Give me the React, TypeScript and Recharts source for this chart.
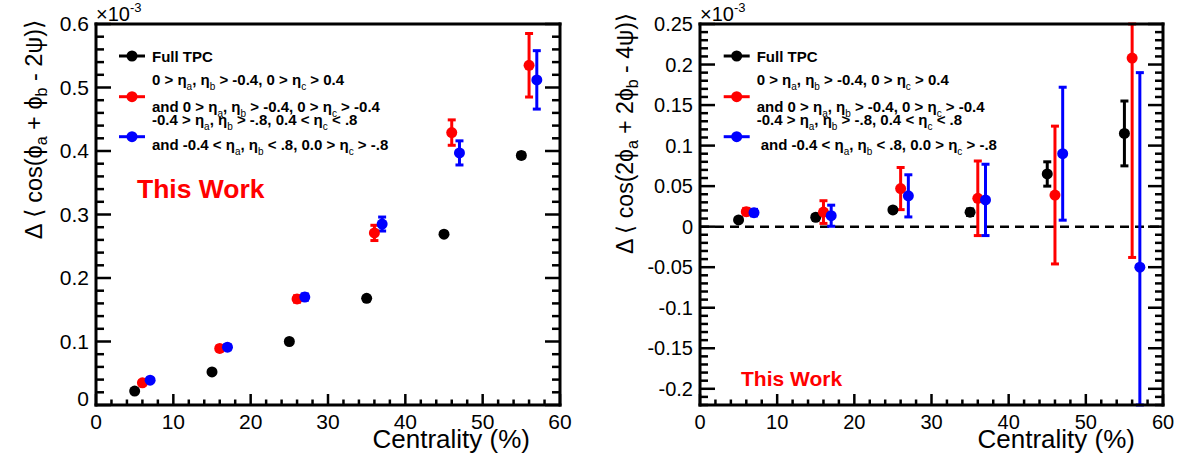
import React from 'react';
import { ScatterChart, Scatter, XAxis, YAxis, ErrorBar, ReferenceLine } from 'recharts';

// ---------- data ----------
const centralityBlack = [5, 15, 25, 35, 45, 55];
const centralityRed = [6, 16, 26, 36, 46, 56];
const centralityBlue = [7, 17, 27, 37, 47, 57];

// left panel: Δ<cos(φa + φb - 2ψ)>  (×10^-3)
const leftBlack = [0.022, 0.052, 0.1, 0.168, 0.269, 0.393];
const leftBlackErr = [0.002, 0.002, 0.002, 0.003, 0.003, 0.004];
const leftRed = [0.035, 0.089, 0.167, 0.271, 0.429, 0.535];
const leftRedErr = [0.003, 0.004, 0.005, 0.012, 0.02, 0.05];
const leftBlue = [0.039, 0.091, 0.17, 0.285, 0.397, 0.512];
const leftBlueErr = [0.003, 0.004, 0.005, 0.011, 0.019, 0.046];

// right panel: Δ<cos(2φa + 2φb - 4ψ)>  (×10^-3)
const rightBlack = [0.0083, 0.0116, 0.0206, 0.0178, 0.065, 0.115];
const rightBlackErr = [0.002, 0.003, 0.003, 0.004, 0.015, 0.04];
const rightRed = [0.0185, 0.018, 0.047, 0.035, 0.039, 0.208];
const rightRedErr = [0.004, 0.014, 0.026, 0.046, 0.085, 0.246];
const rightBlue = [0.0173, 0.0135, 0.038, 0.033, 0.09, -0.05];
const rightBlueErr = [0.004, 0.013, 0.026, 0.044, 0.082, 0.24];

const xMajorLabels = [0, 10, 20, 30, 40, 50, 60];
const leftYMajorLabels = [0, 0.1, 0.2, 0.3, 0.4, 0.5, 0.6];
const rightYMajorLabels = [-0.2, -0.15, -0.1, -0.05, 0, 0.05, 0.1, 0.15, 0.2, 0.25];

// ---------- helpers ----------
const FONT = '"Liberation Sans", Arial, Helvetica, sans-serif';

// error bars are cut at the frame, as in the reference
const build = (xs: number[], ys: number[], es: number[], dom: [number, number]) =>
  xs.map((x, i) => ({
    x,
    y: ys[i],
    err: [Math.min(es[i], ys[i] - dom[0]), Math.min(es[i], dom[1] - ys[i])],
  }));

const subdivide = (majors: number[], n: number, lo: number, hi: number) => {
  const step = (majors[1] - majors[0]) / n;
  const out: number[] = [];
  const start = Math.ceil((lo - majors[0]) / step - 1e-9);
  const end = Math.floor((hi - majors[0]) / step + 1e-9);
  for (let i = start; i <= end; i++) out.push(Math.round((majors[0] + i * step) * 1e6) / 1e6);
  return out;
};

const isMajor = (v: number, step: number) => Math.abs(v / step - Math.round(v / step)) < 1e-6;
const fmt = (v: number) => String(parseFloat(v.toFixed(2)));

const makeXTick = (step: number, side: 'bottom' | 'top', fontSize: number) => (props: any) => {
  const { x, y, payload } = props;
  const v = payload.value;
  const maj = isMajor(v, step);
  const len = maj ? 11 : 5.5;
  const dir = side === 'bottom' ? -1 : 1;
  return (
    <g>
      <line x1={x} x2={x} y1={y} y2={y + dir * len} stroke="#000" strokeWidth={2.5} />
      {side === 'bottom' && maj && (
        <text x={x} y={y + 24} textAnchor="middle" fontSize={fontSize} fontFamily={FONT} fill="#000">
          {fmt(v)}
        </text>
      )}
    </g>
  );
};

const makeYTick = (step: number, side: 'left' | 'right', fontSize: number, zeroShift = 0) => (props: any) => {
  const { x, y, payload } = props;
  const v = payload.value;
  const maj = isMajor(v, step);
  const len = maj ? 15 : 8;
  const dir = side === 'left' ? 1 : -1;
  return (
    <g>
      <line x1={x} x2={x + dir * len} y1={y} y2={y} stroke="#000" strokeWidth={2.5} />
      {side === 'left' && maj && (
        <text x={x - 7} y={y + 7 - (Math.abs(v) < 1e-9 ? zeroShift : 0)} textAnchor="end" fontSize={fontSize} fontFamily={FONT} fill="#000">
          {fmt(v)}
        </text>
      )}
    </g>
  );
};

const dot = (color: string) => (props: any) => <circle cx={props.cx} cy={props.cy} r={5.5} fill={color} />;

const axisLine = { stroke: '#000', strokeWidth: 3, strokeLinecap: 'square' as const };

const xTicks = subdivide(xMajorLabels, 5, 0, 60);
const leftYTicks = subdivide(leftYMajorLabels, 5, 0, 0.6);
const rightYTicks = subdivide(rightYMajorLabels, 5, -0.22, 0.25);

const LEFT_DOMAIN: [number, number] = [0, 0.6];
const RIGHT_DOMAIN: [number, number] = [-0.22, 0.25];

interface PanelProps {
  left: number;
  width: number;
  plotLeft: number;
  plotRight: number;
  yDomain: [number, number];
  yTicks: number[];
  yStep: number;
  fontSize: number;
  zeroShift: number;
  black: any[];
  red: any[];
  blue: any[];
  zeroLine?: boolean;
}

function Panel(p: PanelProps) {
  return (
    <ScatterChart
      width={p.width}
      height={463}
      margin={{ top: 23, right: p.width - p.plotRight - 1, bottom: 0, left: 0 }}
      style={{ position: 'absolute', left: p.left, top: 0 }}
    >
      <XAxis
        xAxisId="b"
        type="number"
        dataKey="x"
        domain={[0, 60]}
        allowDataOverflow
        ticks={xTicks}
        interval={0}
        height={58}
        tickSize={0}
        tickMargin={0}
        tickLine={false}
        axisLine={axisLine}
        tick={makeXTick(10, 'bottom', p.fontSize)}
      />
      <XAxis
        xAxisId="t"
        orientation="top"
        type="number"
        domain={[0, 60]}
        allowDataOverflow
        ticks={xTicks}
        interval={0}
        height={1}
        tickSize={0}
        tickMargin={0}
        tickLine={false}
        axisLine={axisLine}
        tick={makeXTick(10, 'top', p.fontSize)}
      />
      <YAxis
        yAxisId="l"
        type="number"
        dataKey="y"
        domain={p.yDomain}
        allowDataOverflow
        ticks={p.yTicks}
        interval={0}
        width={p.plotLeft}
        tickSize={0}
        tickMargin={0}
        tickLine={false}
        axisLine={axisLine}
        tick={makeYTick(p.yStep, 'left', p.fontSize, p.zeroShift)}
      />
      <YAxis
        yAxisId="r"
        orientation="right"
        type="number"
        domain={p.yDomain}
        allowDataOverflow
        ticks={p.yTicks}
        interval={0}
        width={1}
        tickSize={0}
        tickMargin={0}
        tickLine={false}
        axisLine={axisLine}
        tick={makeYTick(p.yStep, 'right', p.fontSize)}
      />
      {p.zeroLine && (
        <ReferenceLine xAxisId="b" yAxisId="l" y={0} stroke="#000" strokeWidth={2.5} strokeDasharray="9 6" />
      )}
      <Scatter xAxisId="b" yAxisId="l" data={p.black} dataKey="y" shape={dot('#000')} isAnimationActive={false}>
        <ErrorBar dataKey="err" direction="y" width={4} strokeWidth={3} stroke="#000" isAnimationActive={false} />
      </Scatter>
      <Scatter xAxisId="b" yAxisId="l" data={p.red} dataKey="y" shape={dot('#ff0000')} isAnimationActive={false}>
        <ErrorBar dataKey="err" direction="y" width={4} strokeWidth={3} stroke="#ff0000" isAnimationActive={false} />
      </Scatter>
      <Scatter xAxisId="b" yAxisId="l" data={p.blue} dataKey="y" shape={dot('#0000ff')} isAnimationActive={false}>
        <ErrorBar dataKey="err" direction="y" width={4} strokeWidth={3} stroke="#0000ff" isAnimationActive={false} />
      </Scatter>
    </ScatterChart>
  );
}

// text parts: [string, isSubscript]
type Part = [string, boolean];
const renderParts = (parts: Part[], d: number, subSize: number, subWeight?: string) => {
  let prevSub = false;
  return parts.map(([s, sub], i) => {
    const dy = sub && !prevSub ? d : !sub && prevSub ? -d : 0;
    prevSub = sub;
    return sub ? (
      <tspan key={i} dy={dy} fontSize={subSize} fontWeight={subWeight}>{s}</tspan>
    ) : (
      <tspan key={i} dy={dy}>{s}</tspan>
    );
  });
};

const legendLine1: Part[] = [['0 > η', false], ['a', true], [', η', false], ['b', true], [' > -0.4, 0 > η', false], ['c', true], [' > 0.4', false]];
const legendLine2: Part[] = [['and 0 > η', false], ['a', true], [', η', false], ['b', true], [' > -0.4, 0 > η', false], ['c', true], [' > -0.4', false]];
const legendLine3: Part[] = [['-0.4 > η', false], ['a', true], [', η', false], ['b', true], [' > -.8, 0.4 < η', false], ['c', true], [' < .8', false]];
const legendLine4: Part[] = [['and -0.4 < η', false], ['a', true], [', η', false], ['b', true], [' < .8, 0.0 > η', false], ['c', true], [' > -.8', false]];

function LegendBlock({ ox, indent }: { ox: number; indent: number }) {
  const tx = ox + 33;
  const common = { fontFamily: FONT, fontSize: 15, fontWeight: 'bold' as const, fill: '#000' };
  const row = (y: number, color: string) => (
    <g>
      <line x1={ox} x2={ox + 26} y1={y} y2={y} stroke={color} strokeWidth={3} />
      <circle cx={ox + 13} cy={y} r={5.5} fill={color} />
    </g>
  );
  return (
    <g>
      {row(56, '#000')}
      {row(96.7, '#ff0000')}
      {row(136.7, '#0000ff')}
      <text x={tx} y={61.5} {...common}>Full TPC</text>
      <text x={tx} y={85} {...common}>{renderParts(legendLine1, 5, 10, 'normal')}</text>
      <text x={tx} y={111.7} {...common}>{renderParts(legendLine2, 5, 10, 'normal')}</text>
      <text x={tx} y={125} {...common}>{renderParts(legendLine3, 5, 10, 'normal')}</text>
      <text x={tx + indent} y={150} {...common}>{renderParts(legendLine4, 5, 10, 'normal')}</text>
    </g>
  );
}

const leftTitle: Part[] = [['Δ ⟨ cos(ϕ', false], ['a', true], [' + ϕ', false], ['b', true], [' - 2ψ)⟩', false]];
const rightTitle: Part[] = [['Δ ⟨ cos(2ϕ', false], ['a', true], [' + 2ϕ', false], ['b', true], [' - 4ψ)⟩', false]];

function Overlay() {
  const t = { fontFamily: FONT, fill: '#000' };
  return (
    <svg width={1183} height={463} style={{ position: 'absolute', left: 0, top: 0, pointerEvents: 'none' }}>
      {/* exponent labels */}
      <text x={96} y={21} fontSize={20} {...t}>
        ×10<tspan dy={-9} fontSize={13}>-3</tspan>
      </text>
      <text x={700} y={21} fontSize={20} {...t}>
        ×10<tspan dy={-9} fontSize={13}>-3</tspan>
      </text>

      {/* y-axis titles */}
      <text transform="translate(42,20) rotate(-90)" textAnchor="end" fontSize={23.5} {...t}>
        {renderParts(leftTitle, 5, 16)}
      </text>
      <text transform="translate(633,13) rotate(-90)" textAnchor="end" fontSize={23} {...t}>
        {renderParts(rightTitle, 5, 16)}
      </text>

      {/* x-axis titles */}
      <text x={530} y={448} textAnchor="end" fontSize={26} {...t}>Centrality (%)</text>
      <text x={1135} y={448} textAnchor="end" fontSize={26} {...t}>Centrality (%)</text>

      {/* This Work */}
      <text x={137} y={198} fontSize={26.5} fontWeight="bold" fontFamily={FONT} fill="#ff0000">This Work</text>
      <text x={741} y={386} fontSize={21} fontWeight="bold" fontFamily={FONT} fill="#ff0000">This Work</text>

      <LegendBlock ox={119} indent={0} />
      <LegendBlock ox={723.7} indent={4} />
    </svg>
  );
}

export default function App() {
  return (
    <div style={{ position: 'absolute', left: 0, top: 0, width: 1183, height: 463, background: '#fff', overflow: 'hidden' }}>
      <Panel
        left={0}
        width={600}
        plotLeft={96}
        plotRight={560}
        yDomain={LEFT_DOMAIN}
        yTicks={leftYTicks}
        yStep={0.1}
        fontSize={21}
        zeroShift={6}
        black={build(centralityBlack, leftBlack, leftBlackErr, LEFT_DOMAIN)}
        red={build(centralityRed, leftRed, leftRedErr, LEFT_DOMAIN)}
        blue={build(centralityBlue, leftBlue, leftBlueErr, LEFT_DOMAIN)}
      />
      <Panel
        left={600}
        width={583}
        plotLeft={100}
        plotRight={563}
        yDomain={RIGHT_DOMAIN}
        yTicks={rightYTicks}
        yStep={0.05}
        fontSize={20}
        zeroShift={0}
        black={build(centralityBlack, rightBlack, rightBlackErr, RIGHT_DOMAIN)}
        red={build(centralityRed, rightRed, rightRedErr, RIGHT_DOMAIN)}
        blue={build(centralityBlue, rightBlue, rightBlueErr, RIGHT_DOMAIN)}
        zeroLine
      />
      <Overlay />
    </div>
  );
}
